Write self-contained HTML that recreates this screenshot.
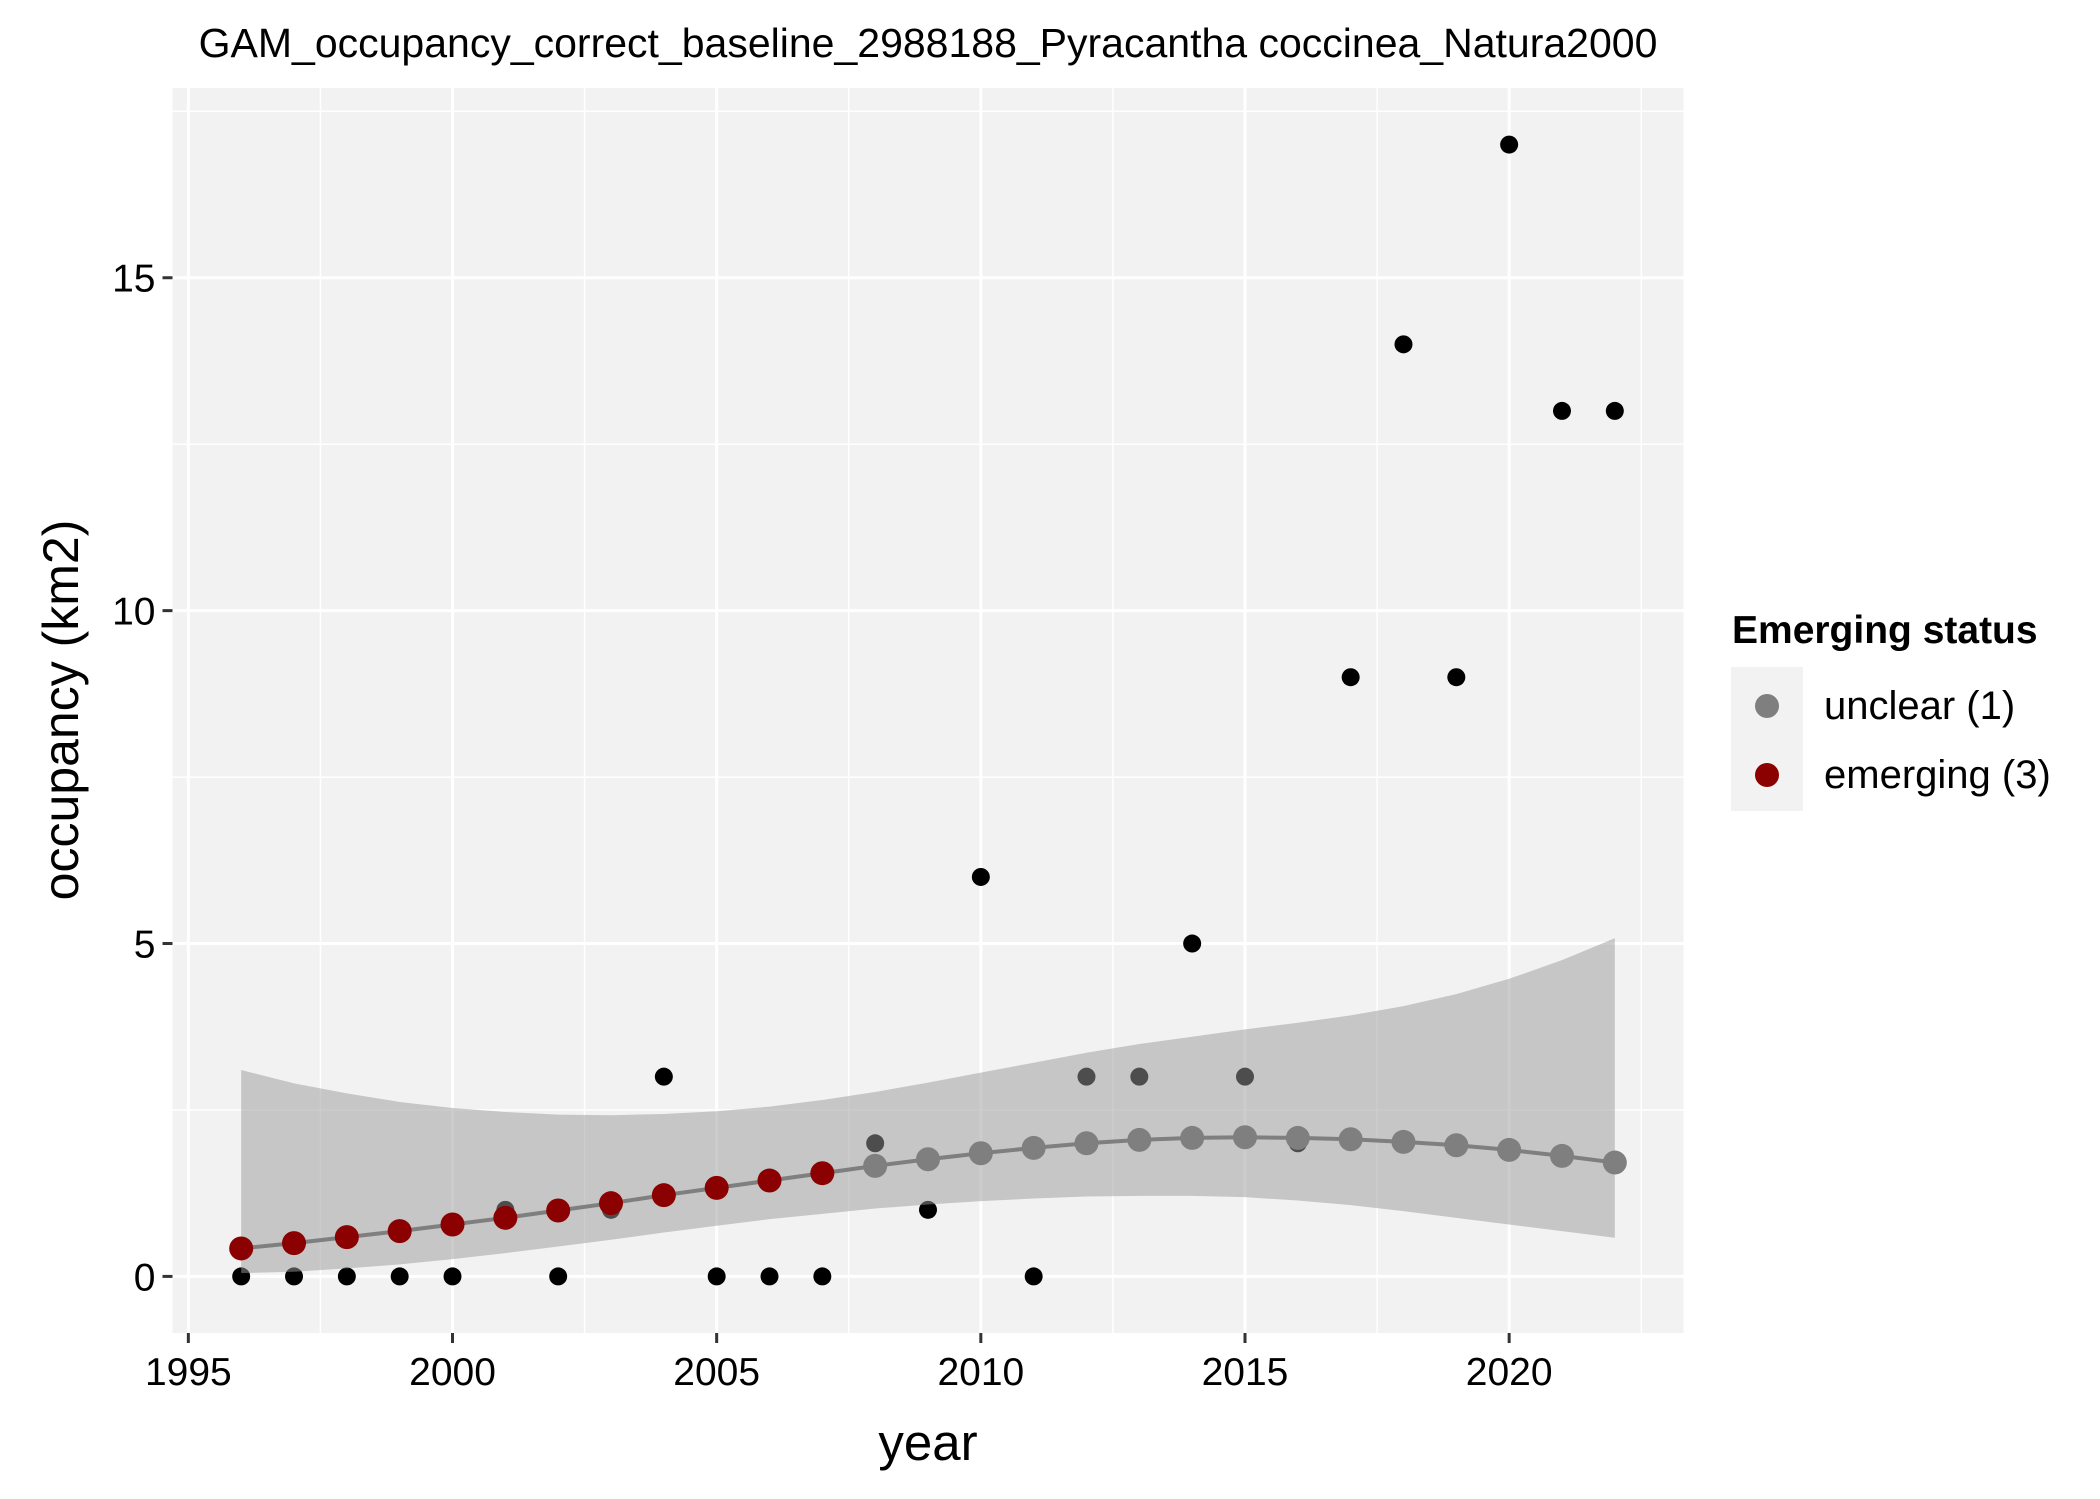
<!DOCTYPE html>
<html><head><meta charset="utf-8"><style>
html,body{margin:0;padding:0;background:#fff;}
svg{display:block;font-family:"Liberation Sans",Arial,sans-serif;}
</style></head><body>
<svg id="chart" width="2100" height="1499" viewBox="0 0 2100 1499" xmlns="http://www.w3.org/2000/svg">
<rect x="0" y="0" width="2100" height="1499" fill="#fff"/>
<text x="928" y="57" text-anchor="middle" font-size="41" fill="#000">GAM_occupancy_correct_baseline_2988188_Pyracantha coccinea_Natura2000</text>
<rect x="172.5" y="88" width="1511" height="1245" fill="#f2f2f2"/>
<g id="grid"></g>
<g id="obs"></g>
<g id="ribbon"></g>
<g id="fit"></g>
<g id="axes"></g>
<text x="928" y="1460" text-anchor="middle" font-size="51" fill="#000">year</text>
<text transform="translate(78,710) rotate(-90)" text-anchor="middle" font-size="50" fill="#000">occupancy (km2)</text>
<g>
<text x="1732" y="643" font-size="39" font-weight="bold" fill="#000">Emerging status</text>
<rect x="1731" y="667" width="72" height="144" fill="#f2f2f2"/>
<circle cx="1767" cy="706" r="12" fill="#7f7f7f"/>
<text x="1824" y="719" font-size="40" fill="#000">unclear (1)</text>
<circle cx="1767" cy="775" r="12" fill="#8b0000"/>
<text x="1824" y="788" font-size="40" fill="#000">emerging (3)</text>
</g>
</svg>
<script>
const years = [1996,1997,1998,1999,2000,2001,2002,2003,2004,2005,2006,2007,2008,2009,2010,2011,2012,2013,2014,2015,2016,2017,2018,2019,2020,2021,2022];
const observed = [0,0,0,0,0,1,0,1,3,0,0,0,2,1,6,0,3,3,5,3,2,9,14,9,17,13,13];
const fitted = [0.42,0.5,0.59,0.68,0.78,0.88,0.99,1.1,1.22,1.33,1.44,1.55,1.66,1.76,1.85,1.93,2.0,2.05,2.08,2.09,2.08,2.06,2.02,1.97,1.9,1.81,1.71];
const ciUpper = [3.1,2.9,2.75,2.62,2.53,2.47,2.43,2.42,2.44,2.48,2.55,2.65,2.77,2.91,3.06,3.21,3.36,3.49,3.6,3.71,3.81,3.92,4.06,4.24,4.47,4.75,5.08];
const ciLower = [0.05,0.07,0.12,0.18,0.26,0.35,0.45,0.55,0.66,0.76,0.86,0.94,1.02,1.08,1.13,1.17,1.2,1.21,1.21,1.19,1.14,1.07,0.98,0.88,0.78,0.68,0.58];
const status = ["emerging","emerging","emerging","emerging","emerging","emerging","emerging","emerging","emerging","emerging","emerging","emerging","unclear","unclear","unclear","unclear","unclear","unclear","unclear","unclear","unclear","unclear","unclear","unclear","unclear","unclear","unclear"];
const xTicks = [1995,2000,2005,2010,2015,2020];
const yTicks = [0,5,10,15];

const NS = "http://www.w3.org/2000/svg";
const PL = 172.5, PR = 1683.5, PT = 88, PB = 1333;
const xMin = 1994.7, xMax = 2023.3, yMin = -0.85, yMax = 17.85;
function sx(v){ return PL + (v - xMin) / (xMax - xMin) * (PR - PL); }
function sy(v){ return PB - (v - yMin) / (yMax - yMin) * (PB - PT); }
function mk(tag, attrs, parent){ const e = document.createElementNS(NS, tag); for (const k in attrs) e.setAttribute(k, attrs[k]); parent.appendChild(e); return e; }

const grid = document.getElementById('grid');
for (let v = 1997.5; v < xMax; v += 5) {
  const l = mk('line', {x1: sx(v), x2: sx(v), y1: PT, y2: PB, stroke: '#fff', 'stroke-width': 1.5}, grid);
  
  
}
for (let v = 2.5; v < yMax; v += 5) {
  const l = mk('line', {x1: PL, x2: PR, y1: sy(v), y2: sy(v), stroke: '#fff', 'stroke-width': 1.5}, grid);
  
  
}
xTicks.forEach(v => {
  const l = mk('line', {x1: sx(v), x2: sx(v), y1: PT, y2: PB, stroke: '#fff', 'stroke-width': 3}, grid);
  
  
});
yTicks.forEach(v => {
  const l = mk('line', {x1: PL, x2: PR, y1: sy(v), y2: sy(v), stroke: '#fff', 'stroke-width': 3}, grid);
  
  
});

const obs = document.getElementById('obs');
years.forEach((y, i) => {
  const c = mk('circle', {cx: sx(y), cy: sy(observed[i]), r: 9, fill: '#000'}, obs);
  
  
});

const rib = document.getElementById('ribbon');
let d = '';
years.forEach((y, i) => { d += (i ? 'L' : 'M') + sx(y) + ',' + sy(ciUpper[i]); });
for (let i = years.length - 1; i >= 0; i--) d += 'L' + sx(years[i]) + ',' + sy(ciLower[i]);
d += 'Z';
const rp = mk('path', {d: d, fill: '#999999', 'fill-opacity': 0.5}, rib);



const fit = document.getElementById('fit');
const pts = years.map((y, i) => sx(y) + ',' + sy(fitted[i])).join(' ');
const fl = mk('polyline', {points: pts, fill: 'none', stroke: '#7f7f7f', 'stroke-width': 4}, fit);


years.forEach((y, i) => {
  const c = mk('circle', {cx: sx(y), cy: sy(fitted[i]), r: 12, fill: status[i] === 'emerging' ? '#8b0000' : '#7f7f7f'}, fit);
  
  
});

const ax = document.getElementById('axes');
xTicks.forEach(v => {
  const t = mk('line', {x1: sx(v), x2: sx(v), y1: PB, y2: PB + 10, stroke: '#333', 'stroke-width': 3}, ax);
  
  
  const tx = mk('text', {x: sx(v), y: PB + 52, 'text-anchor': 'middle', 'font-size': 39, fill: '#000'}, ax);
  tx.textContent = v;
  
  
});
yTicks.forEach(v => {
  const t = mk('line', {x1: PL - 10, x2: PL, y1: sy(v), y2: sy(v), stroke: '#333', 'stroke-width': 3}, ax);
  
  
  const tx = mk('text', {x: PL - 17, y: sy(v) + 14, 'text-anchor': 'end', 'font-size': 39, fill: '#000'}, ax);
  tx.textContent = v;
  
  
});
</script>
</body></html>
